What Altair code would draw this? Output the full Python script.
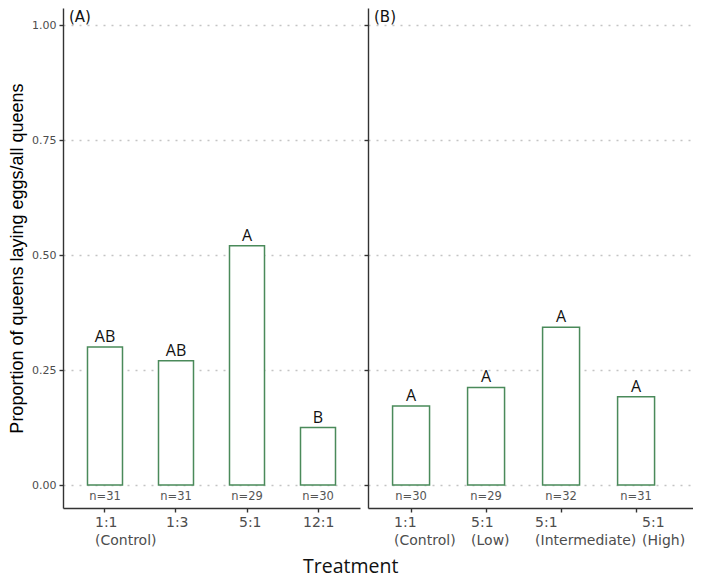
import altair as alt
import pandas as pd

# Panel A
treat_a = ["1:1 (Control)", "1:3", "5:1", "12:1"]
prop_a = [0.30, 0.27, 0.52, 0.125]
letters_a = ["AB", "AB", "A", "B"]
n_a = ["n=31", "n=31", "n=29", "n=30"]

# Panel B
treat_b = ["1:1 (Control)", "5:1 (Low)", "5:1 (Intermediate)", "5:1 (High)"]
prop_b = [0.172, 0.212, 0.343, 0.192]
letters_b = ["A", "A", "A", "A"]
n_b = ["n=30", "n=29", "n=32", "n=31"]

GREEN = "#4a8a5a"
Y_DOMAIN = [-0.05, 1.037]
N_POS = -0.026

# horizontal nudge of each tick label block (style only)
LABEL_NUDGE_A = [-10, -10, -8, -15]
LABEL_NUDGE_B = [-17, -15, -26, 6]


def nudge_expr(treats, nudges):
    expr = str(nudges[-1])
    for t, n in reversed(list(zip(treats[:-1], nudges[:-1]))):
        expr = f"datum.value == '{t}' ? {n} : ({expr})"
    return expr


def panel(treats, props, letters, ns, tag, width, pad_outer, align, show_y, nudges):
    df = pd.DataFrame({"treat": treats, "prop": props, "letter": letters, "n": ns})
    df["npos"] = N_POS
    xenc = alt.X(
        "treat:N",
        sort=treats,
        scale=alt.Scale(paddingInner=0.507, paddingOuter=pad_outer, align=align),
        axis=alt.Axis(
            title=None,
            labelAngle=0,
            labelAlign="left",
            labelOffset={"expr": nudge_expr(treats, nudges)},
            labelExpr="split(datum.label, ' ')",
            labelLineHeight=18,
            labelFont="DejaVu Sans",
            labelFontSize=14,
            labelPadding=3,
            labelOverlap=False,
            grid=False,
            ticks=True,
        ),
    )
    yaxis = alt.Axis(
        values=[0, 0.25, 0.5, 0.75, 1.0],
        format=".2f",
        grid=True,
        labels=show_y,
        title="Proportion of queens laying eggs/all queens" if show_y else None,
        titleFont="Liberation Sans",
        titleFontSize=18,
        titleFontWeight="normal",
        titleColor="#000000",
        titlePadding=5,
    )
    base = alt.Chart(df)
    bars = base.mark_bar(fill="white", stroke=GREEN, strokeWidth=1.5).encode(
        x=xenc,
        y=alt.Y("prop:Q", scale=alt.Scale(domain=Y_DOMAIN, nice=False, zero=False), axis=yaxis),
    )
    let = base.mark_text(
        baseline="bottom", dy=-2, font="Open Sans", fontSize=16, color="#111111"
    ).encode(x=alt.X("treat:N", sort=treats), y="prop:Q", text="letter:N")
    nn = base.mark_text(
        baseline="middle", font="DejaVu Sans", fontSize=11.5, color="#555555"
    ).encode(x=alt.X("treat:N", sort=treats), y="npos:Q", text="n:N")
    tagdf = pd.DataFrame({"tag": [tag]})
    tg = alt.Chart(tagdf).mark_text(
        align="left", baseline="middle", font="DejaVu Sans", fontSize=15, color="#111111"
    ).encode(x=alt.value(6), y=alt.value(9), text="tag:N")
    return alt.layer(bars, let, nn, tg).properties(width=width, height=500)


pa = panel(treat_a, prop_a, letters_a, n_a, "(A)", 297, 0.345, 0.5, True, LABEL_NUDGE_A)
pb = panel(treat_b, prop_b, letters_b, n_b, "(B)", 325, 0.42, 0.39, False, LABEL_NUDGE_B)

chart = (
    alt.hconcat(pa, pb, spacing=3)
    .resolve_scale(x="independent")
    .properties(
        title=alt.TitleParams(
            "Treatment",
            orient="bottom",
            anchor="middle",
            font="Open Sans",
            fontSize=19.5,
            fontWeight="normal",
            color="#111111",
            offset=11,
        ),
        padding={"left": 0, "top": 0, "right": 0, "bottom": 2},
    )
    .configure_view(stroke=None)
    .configure_axis(
        domainColor="#333333",
        domainWidth=1.4,
        tickColor="#333333",
        tickSize=4,
        tickWidth=1.4,
        labelColor="#4d4d4d",
        labelFont="DejaVu Sans",
        labelFontSize=11,
        gridColor="#c4c4c4",
        gridDash=[2, 6],
        gridWidth=1.3,
    )
    .configure_axisY(labelFontSize=11, labelPadding=3)
)

chart.save("out.html", embed_options={"renderer": "svg", "actions": False})
